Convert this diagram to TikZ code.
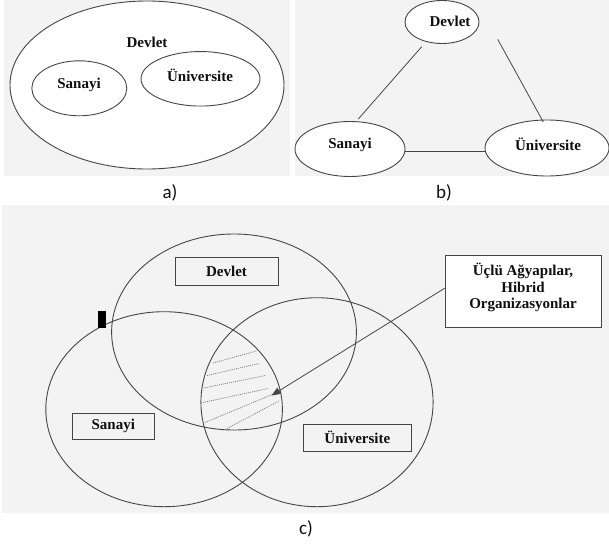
\documentclass[tikz,border=0pt]{standalone}
\usepackage{fontspec}
\setmainfont{Liberation Serif}
\newfontfamily\capfont{Carlito}
\usetikzlibrary{shapes.geometric,arrows.meta,calc}
\definecolor{bggray}{RGB}{243,243,243}
\definecolor{linegray}{RGB}{70,70,70}
\definecolor{txt}{RGB}{15,15,15}
\definecolor{hatchgray}{RGB}{130,130,130}
\begin{document}
\begin{tikzpicture}[x=1pt,y=-1pt,
 oval/.style={ellipse,draw=linegray,line width=0.9pt,fill=white,inner sep=0pt},
 ring/.style={ellipse,draw=linegray,line width=0.9pt,inner sep=0pt},
 lbl/.style={font=\fontsize{15}{16.5}\selectfont\bfseries,text=txt,inner sep=0pt},
 tagbox/.style={draw=linegray,line width=0.9pt,inner sep=0pt},
 captxt/.style={font=\capfont\fontsize{19}{21}\selectfont,text=txt,inner sep=0pt},
 link/.style={draw=linegray,line width=0.8pt},
 hatch/.style={draw=hatchgray,dash pattern=on 1pt off 1pt,line width=0.8pt}]
\useasboundingbox (0,0) rectangle (609,546);
% panels
\fill[bggray] (4,0) rectangle (290,176);
\fill[bggray] (295,0) rectangle (609,176);
\fill[bggray] (2,205) rectangle (609,513);

% ---- a)
\node[oval,minimum width=274,minimum height=168] (aD) at (147,85) {};
\node[lbl] (aDt) at (147,42) {Devlet};
\node[oval,minimum width=95,minimum height=55] (aS) at (79.3,88.3) {};
\node[lbl] (aSt) at (79,85) {Sanayi};
\node[oval,minimum width=119,minimum height=54.5] (aU) at (200.5,78.8) {};
\node[lbl] (aUt) at (200,75) {Üniversite};
\node[captxt] (capa) at (170,193) {a)};

% ---- b)
\node[oval,minimum width=74,minimum height=43] (bD) at (442,22) {};
\node[lbl] (bDt) at (450,21) {Devlet};
\node[oval,minimum width=110,minimum height=55] (bS) at (350,149) {};
\node[lbl] (bSt) at (350,145) {Sanayi};
\node[oval,minimum width=124,minimum height=56] (bU) at (547,148) {};
\node[lbl] (bUt) at (548,144) {Üniversite};
\draw[link] ($(bD.center)+(-20.3,24.7)$) -- ($(bS.center)+(8.3,-30)$);
\draw[link] ($(bD.center)+(55.7,17.3)$) -- ($(bU.center)+(-3.7,-26)$);
\draw[link] ($(bS.east)+(0,2.7)$) -- ($(bU.west)+(0,3.7)$);
\node[captxt] (capb) at (444,193) {b)};

% ---- c)
\node[ring,minimum width=244.8,minimum height=196] (cD) at (234,332) {};
\node[ring,minimum width=236.6,minimum height=195] (cS) at (164.1,409.2) {};
\node[ring,minimum width=232.2,minimum height=209] (cU) at (317,402.2) {};
% hatching
\draw[hatch] (213,363) -- (256.5,351);
\draw[hatch] (207,375.5) -- (259,363.5);
\draw[hatch] (203.5,388) -- (265.5,375.5);
\draw[hatch] (203,402.5) -- (268,388.5);
\draw[hatch] (205,422.5) -- (277,392.5);
\draw[hatch] (227,428.5) -- (279,401);
% boxes
\node[tagbox,minimum width=102.6,minimum height=27.7] (cDb) at (226.9,271.2) {};
\node[lbl] (cDt) at (226.5,271) {Devlet};
\node[tagbox,minimum width=82.7,minimum height=26] (cSb) at (113.3,426.3) {};
\node[lbl] (cSt) at (113.3,426) {Sanayi};
\node[tagbox,minimum width=107.2,minimum height=26.7] (cUb) at (357.4,437.7) {};
\node[lbl] (cUt) at (357.4,437.5) {Üniversite};
\node[tagbox,fill=white,minimum width=156,minimum height=72.7] (cC) at (523,291.3) {};
\node[lbl,align=center] (cCt) at (523,287.5) {Üçlü Ağyapılar,\\Hibrid\\Organizasyonlar};
\coordinate (tip) at (271.5,395.5);
\draw[link,-{Triangle[length=9pt,width=7pt]}] ($(cC.west)+(0,-3)$) -- (tip);
% marker
\fill[black] (98.3,311) rectangle (106.3,327.7);
\node[captxt] (capc) at (306,529) {c)};
\end{tikzpicture}
\end{document}
